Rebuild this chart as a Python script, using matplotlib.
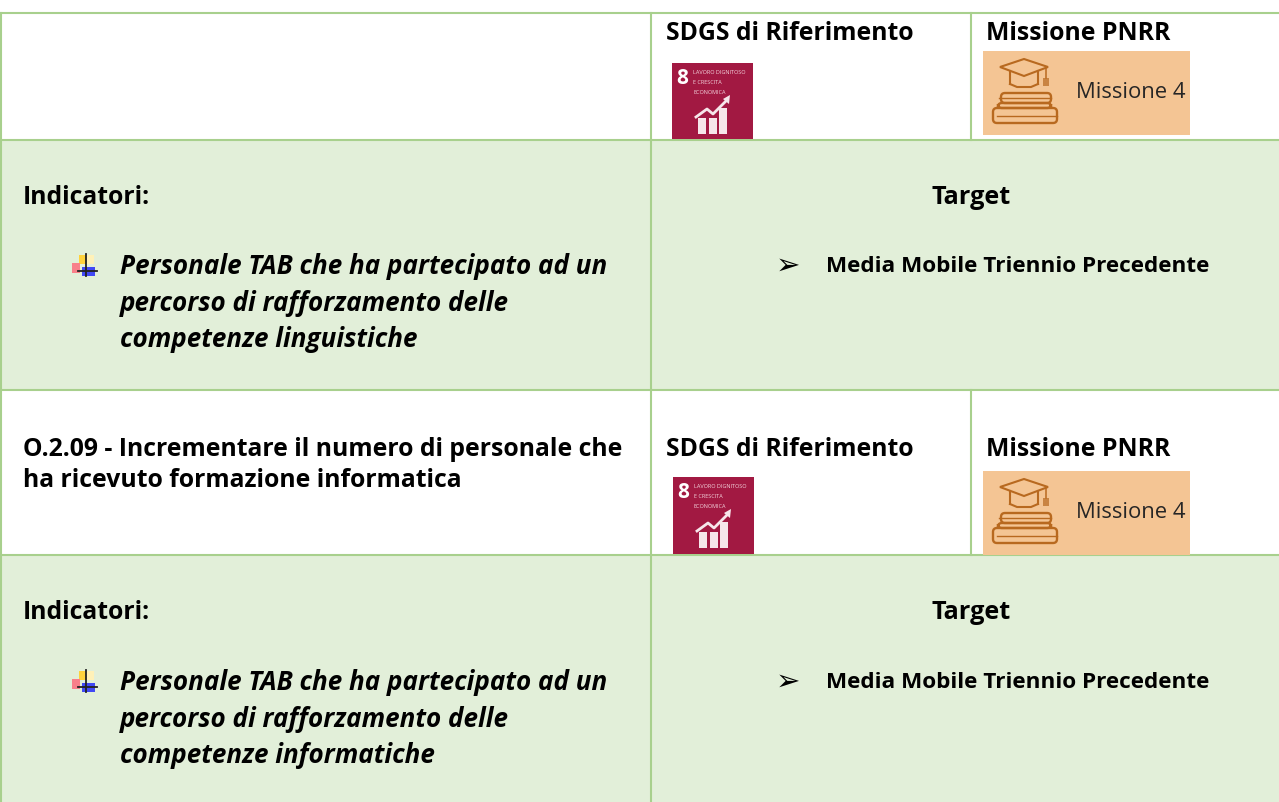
#!/usr/bin/env python3
"""Table of objectives, indicators and targets, drawn on pixel axes."""

import matplotlib
matplotlib.use("Agg")
import matplotlib.pyplot as plt
from matplotlib.patches import Rectangle, Polygon, FancyBboxPatch

W, H = 1279, 803

header_sdg = "SDGS di Riferimento"
header_pnrr = "Missione PNRR"
objective_lines = ["O.2.09 - Incrementare il numero di personale che",
                   "ha ricevuto formazione informatica"]
indicators_label = "Indicatori:"
target_label = "Target"
target_text = "Media Mobile Triennio Precedente"
indicator_1 = ["Personale TAB che ha partecipato ad un",
               "percorso di rafforzamento delle",
               "competenze linguistiche"]
indicator_2 = ["Personale TAB che ha partecipato ad un",
               "percorso di rafforzamento delle",
               "competenze informatiche"]
sdg_lines = ["LAVORO DIGNITOSO", "E CRESCITA", "ECONOMICA"]
mission_label = "Missione 4"

GREEN_LINE = "#A8D08D"
GREEN_FILL = "#E2EFD9"
SDG_RED = "#A21942"
SDG_PALE = "#F6E6EA"
ORANGE = "#F4C594"
BROWN = "#B8691F"
FONT = "Open Sans"
FS = 17.8

fig = plt.figure(figsize=(W / 100, H / 100), dpi=100)
ax = fig.add_axes([0, 0, 1, 1])
ax.set_xlim(0, W)
ax.set_ylim(H, 0)
ax.axis("off")


def label(x, y, s, style="normal", ha="left", size=FS):
    ax.text(x, y + 2, s, fontsize=size, family=FONT, weight="bold", style=style,
            ha=ha, va="center", color="black")


def sdg_icon(x0, y0, w, h):
    ax.add_patch(Rectangle((x0, y0), w, h, fc=SDG_RED, ec="none", zorder=3))
    ax.text(x0 + 10.5, y0 + 14.5, "8", color="white", fontsize=15, weight="bold",
            family=FONT, ha="center", va="center", zorder=4)
    for i, s in enumerate(sdg_lines):
        ax.text(x0 + 21, y0 + 9 + i * 10, s, color="#F3D3DC", fontsize=4.0,
                family=FONT, ha="left", va="center", zorder=4)
    # rising graph
    for dx, top, wd in ((26, 55, 8), (37, 55, 8), (47, 45, 8)):
        ax.add_patch(Rectangle((x0 + dx, y0 + top), wd, 71 - top, fc=SDG_PALE,
                               ec="none", zorder=4))
    ax.plot([x0 + 24, x0 + 35, x0 + 41, x0 + 55], [y0 + 54, y0 + 46, y0 + 51, y0 + 37],
            color=SDG_PALE, lw=2.0, zorder=4)
    ax.add_patch(Polygon([(x0 + 51, y0 + 36), (x0 + 58, y0 + 32), (x0 + 57, y0 + 41)],
                         fc=SDG_PALE, ec="none", zorder=4))


def mission_icon(x0, y0, w, h):
    ax.add_patch(Rectangle((x0, y0), w, h, fc=ORANGE, ec="none", zorder=3))
    # cap
    ax.add_patch(Polygon([(x0 + 17, y0 + 16), (x0 + 41, y0 + 8), (x0 + 65, y0 + 16),
                          (x0 + 41, y0 + 25)], fc="none", ec=BROWN, lw=1.5, zorder=4))
    ax.plot([x0 + 27, x0 + 27], [y0 + 20, y0 + 33], color=BROWN, lw=1.5, zorder=4)
    ax.plot([x0 + 55, x0 + 55], [y0 + 20, y0 + 33], color=BROWN, lw=1.5, zorder=4)
    ax.plot([x0 + 27, x0 + 34, x0 + 48, x0 + 55], [y0 + 33, y0 + 36, y0 + 36, y0 + 33],
            color=BROWN, lw=1.5, zorder=4)
    ax.plot([x0 + 63, x0 + 63], [y0 + 17, y0 + 27], color=BROWN, lw=1.1, zorder=4)
    ax.add_patch(Rectangle((x0 + 60, y0 + 27), 6, 8, fc=BROWN, ec="none", alpha=0.7, zorder=4))
    # books
    for bx, by, bw, bh in ((18, 42, 50, 10), (15, 52, 53, 5), (10, 57, 64, 15)):
        ax.add_patch(FancyBboxPatch((x0 + bx, y0 + by), bw, bh,
                                    boxstyle="round,pad=0,rounding_size=4",
                                    fc="none", ec=BROWN, lw=1.7, zorder=4))
    ax.plot([x0 + 16, x0 + 68], [y0 + 47, y0 + 47], color=BROWN, lw=1.0, zorder=4)
    ax.plot([x0 + 14, x0 + 74], [y0 + 64.5, y0 + 64.5], color=BROWN, lw=1.0, zorder=4)
    ax.text(x0 + 93, y0 + 41, mission_label, fontsize=15.8, family=FONT, color="#262626",
            ha="left", va="center", zorder=4)


def bullet(x, y):
    # x, y is where the black cross meets
    ax.add_patch(Rectangle((x - 7.5, y - 16), 7.5, 9, fc="#FFD23C", ec="none", zorder=3))
    ax.add_patch(Rectangle((x, y - 16), 8, 9, fc="#FFF1B8", ec="none", zorder=3))
    ax.add_patch(Rectangle((x - 14, y - 8), 8, 10, fc="#F8808A", ec="none", zorder=3))
    ax.add_patch(Rectangle((x - 4, y - 4), 13, 9, fc="#4048F5", ec="none", zorder=3))
    ax.plot([x, x], [y - 17, y + 5], color="#222222", lw=1.3, zorder=4)
    ax.plot([x - 8, x + 11], [y, y], color="#222222", lw=1.3, zorder=4)


# row backgrounds
ax.add_patch(Rectangle((0, 141), W, 250, fc=GREEN_FILL, ec="none"))
ax.add_patch(Rectangle((0, 556), W, H - 556, fc=GREEN_FILL, ec="none"))

# grid lines
for y in (14, 141, 391, 556):
    ax.plot([0, W], [y, y], color=GREEN_LINE, lw=1.5, zorder=2)
ax.plot([1, 1], [14, H], color=GREEN_LINE, lw=1.5, zorder=2)
ax.plot([651, 651], [14, H], color=GREEN_LINE, lw=1.5, zorder=2)
ax.plot([971, 971], [14, 141], color=GREEN_LINE, lw=1.5, zorder=2)
ax.plot([971, 971], [391, 556], color=GREEN_LINE, lw=1.5, zorder=2)

# top header row
label(666, 31, header_sdg)
label(986, 31, header_pnrr)
sdg_icon(672, 64, 81, 76)
mission_icon(983, 52, 207, 84)

# objective row
label(23, 448, objective_lines[0])
label(23, 479, objective_lines[1])
label(666, 448, header_sdg)
label(986, 448, header_pnrr)
sdg_icon(673, 478, 81, 77)
mission_icon(983, 472, 207, 84)

# indicator / target rows
for y0, lines in ((195, indicator_1), (611, indicator_2)):
    label(23, y0, indicators_label)
    label(971, y0, target_label, ha="center", size=18.2)
    bullet(86, y0 + 77)
    for i, s in enumerate(lines):
        label(120, y0 + 70 + i * 36.5, s, style="italic", size=18.7)
    ax.text(788, y0 + 71, "\u27a2", fontsize=21, family="DejaVu Sans", ha="center",
            va="center", color="black")
    label(826, y0 + 70, target_text, size=16.2)

fig.savefig("out.png", dpi=100)
